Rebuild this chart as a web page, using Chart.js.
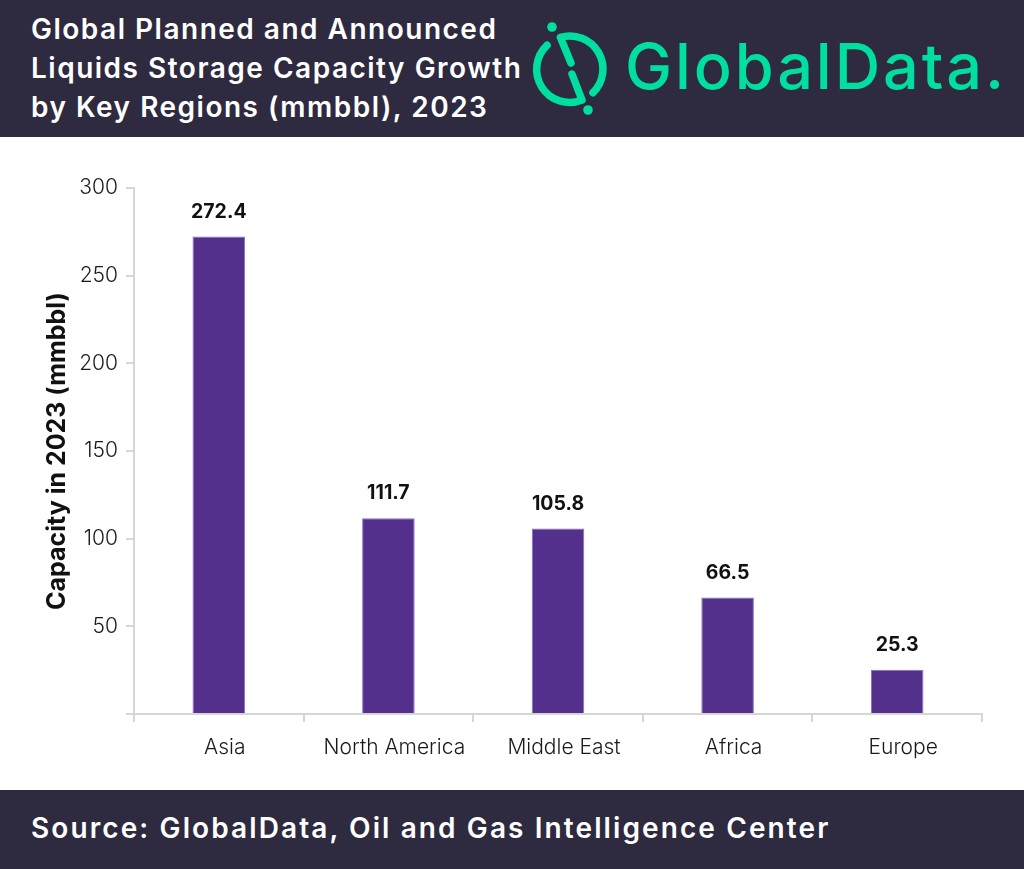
<!DOCTYPE html>
<html>
<head>
<meta charset="utf-8">
<script src="https://cdn.jsdelivr.net/npm/chart.js@4.4.0/dist/chart.umd.min.js"></script>
<style>
  html, body { margin: 0; padding: 0; background: #fff; }
  body { width: 1024px; height: 869px; overflow: hidden; font-family: Inter, "Noto Sans", sans-serif; }
  .top { position: relative; height: 137px; background: #2e2a3f; }
  .top h1 { position: absolute; left: 31px; top: 10px; margin: 0; color: #fff; font-size: 28px; font-weight: 600; line-height: 39px; letter-spacing: 1.5px; white-space: nowrap; }
  .logo { position: absolute; left: 530px; top: 10px; }
  .logo-text { position: absolute; left: 625px; top: 28px; color: #00df9f; font-size: 63px; font-weight: 500; letter-spacing: 2.9px; line-height: normal; }
  .wrap { position: relative; height: 653px; }
  .bottom { height: 79px; background: #2e2a3f; color: #fff; font-size: 28px; font-weight: 600; line-height: 76px; padding-left: 31px; letter-spacing: 2.1px; white-space: nowrap; }
</style>
</head>
<body>
<div class="top">
  <h1>Global Planned and Announced<br>Liquids Storage Capacity Growth<br>by Key Regions (mmbbl), 2023</h1>
  <svg class="logo" width="100" height="115" viewBox="0 0 100 115">
    <g fill="none" stroke="#00df9f" stroke-width="7.5" stroke-linecap="round" stroke-linejoin="round">
      <path d="M 17.1 35.3 A 33 33 0 0 0 52 90 L 42 64" />
      <path d="M 41 53 L 30.4 27.4 A 33 33 0 0 1 62.9 82.7" />
    </g>
    <circle cx="22" cy="17" r="4.8" fill="#00df9f" />
    <circle cx="58" cy="100" r="4.8" fill="#00df9f" />
  </svg>
  <div class="logo-text">GlobalData.</div>
</div>
<div class="wrap"><canvas id="myChart"></canvas></div>
<div class="bottom">Source: GlobalData, Oil and Gas Intelligence Center</div>
<script>
var regions = ["Asia", "North America", "Middle East", "Africa", "Europe"];
var capacity = [272.4, 111.7, 105.8, 66.5, 25.3];
var yTicks = [0, 50, 100, 150, 200, 250, 300];

// draws the numbers above each bar
const barLabels = {
  id: "barLabels",
  afterDatasetsDraw(chart) {
    const ctx = chart.ctx;
    const meta = chart.getDatasetMeta(0);
    ctx.save();
    ctx.font = "700 19.5px Inter, 'Noto Sans', sans-serif";
    ctx.fillStyle = "#111";
    ctx.textAlign = "center";
    ctx.textBaseline = "bottom";
    meta.data.forEach((bar, i) => {
      ctx.fillText(capacity[i].toFixed(1), bar.x, bar.y - 15);
    });
    ctx.restore();
  }
};

new Chart("myChart", {
  type: "bar",
  data: {
    labels: regions,
    datasets: [{
      data: capacity,
      backgroundColor: "#52308c",
      borderColor: "#8a6cc0",
      borderWidth: {top: 1, left: 1, right: 1, bottom: 0},
      categoryPercentage: 0.31,
      barPercentage: 1
    }]
  },
  options: {
    responsive: true,
    maintainAspectRatio: false,
    animation: false,
    layout: { padding: { top: 51, right: 42, bottom: 0, left: 0 } },
    plugins: { legend: { display: false }, tooltip: { enabled: false } },
    scales: {
      x: {
        grid: { drawOnChartArea: false, color: "#d6d6d6", lineWidth: 2, tickLength: 8, offset: true },
        border: { color: "#d6d6d6", width: 2 },
        ticks: { color: "#1a1a1a", font: { family: "Inter, 'Noto Sans', sans-serif", size: 21, weight: 300 }, padding: 13, labelOffset: 6 },
        afterFit: function(scale) { scale.height = 76; }
      },
      y: {
        min: 0,
        max: 300,
        afterBuildTicks: function(scale) { scale.ticks = yTicks.map(v => ({value: v})); },
        grid: { drawOnChartArea: false, color: "#d6d6d6", lineWidth: 2, tickLength: 8 },
        border: { color: "#d6d6d6", width: 2 },
        ticks: {
          color: "#1a1a1a",
          font: { family: "Inter, 'Noto Sans', sans-serif", size: 21, weight: 300 },
          padding: 8,
          callback: function(v) { return v === 0 ? "" : v; }
        },
        title: {
          display: true,
          text: "Capacity in 2023 (mmbbl)",
          color: "#111",
          font: { family: "Inter, 'Noto Sans', sans-serif", size: 25, weight: 700 },
          padding: { top: 42, bottom: 0 }
        },
        afterFit: function(scale) { scale.width = 134; }
      }
    }
  },
  plugins: [barLabels]
});
</script>
</body>
</html>
